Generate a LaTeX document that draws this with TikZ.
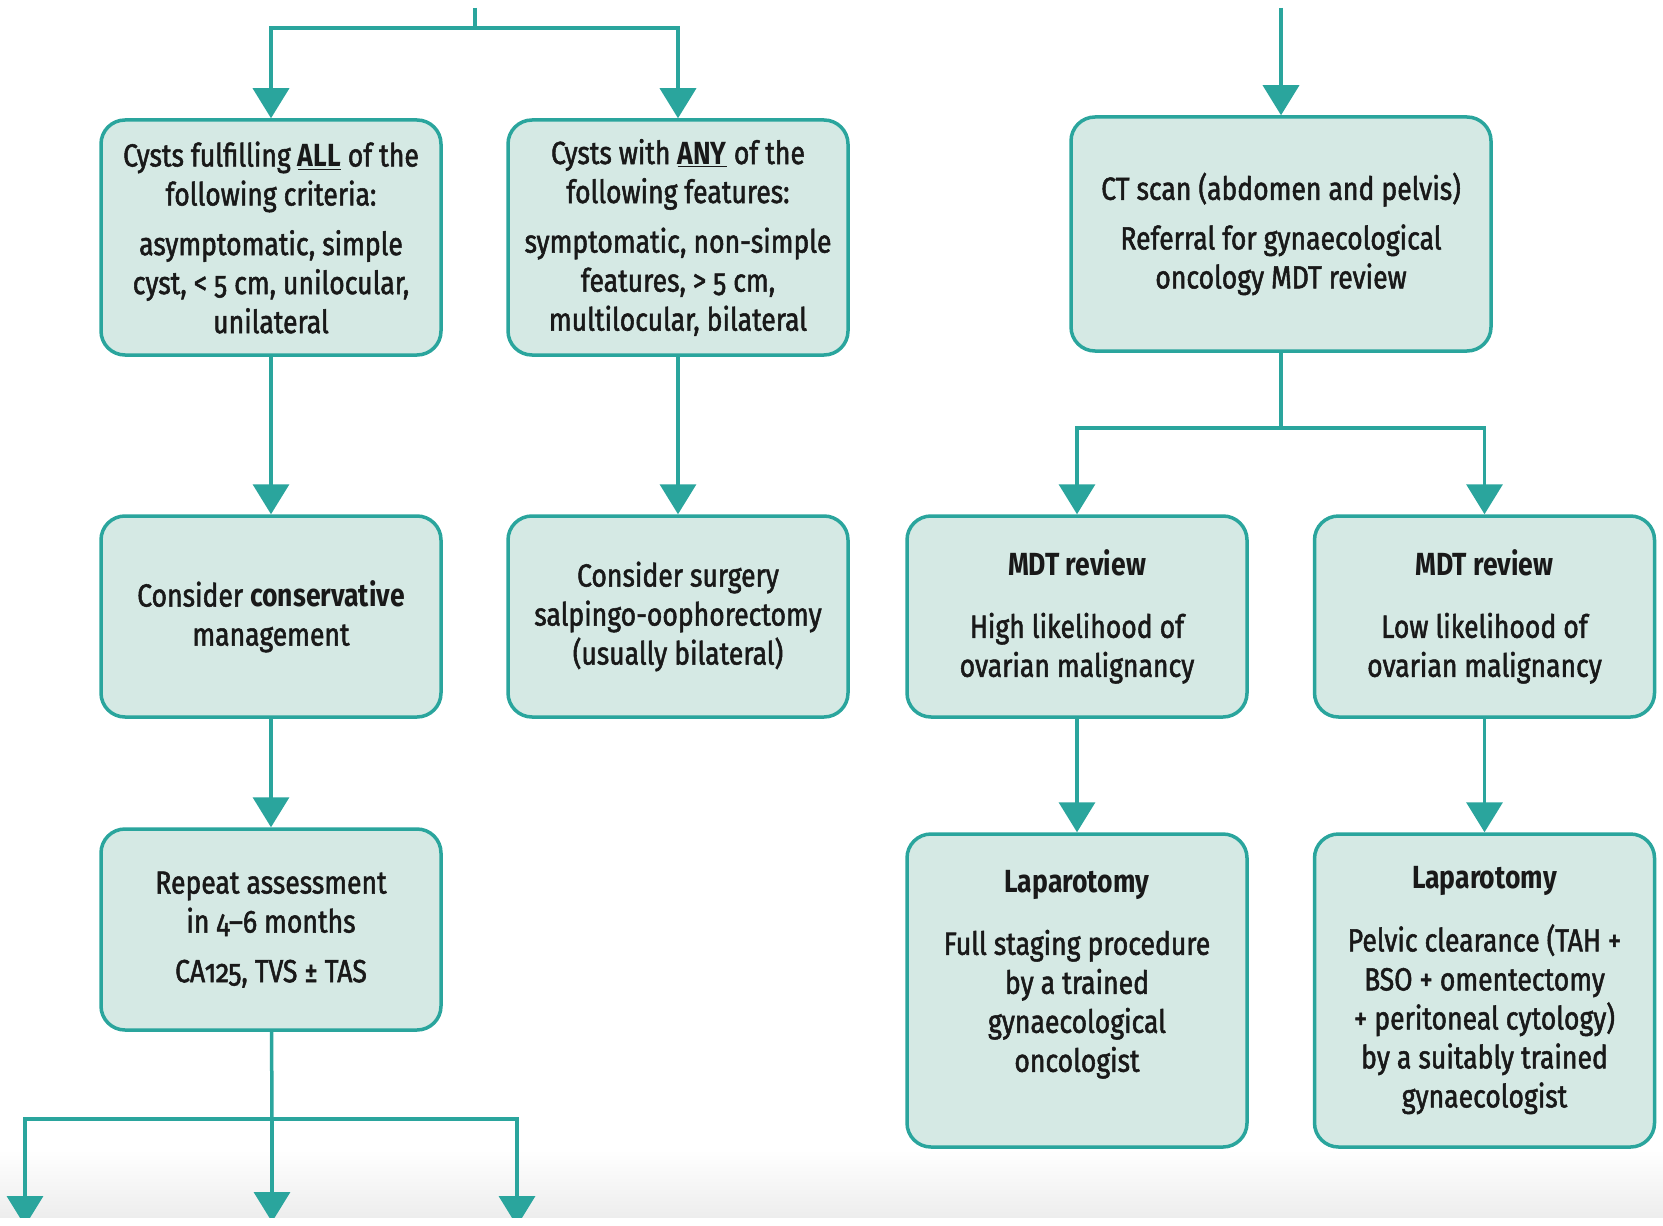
\documentclass[tikz,border=0pt]{standalone}
\usepackage{fontspec}
\setmainfont{Fira Sans}[FakeStretch=0.83, Numbers=OldStyle, UprightFeatures={FakeBold=1.6}]
\usetikzlibrary{arrows.meta,positioning}
\definecolor{tealline}{RGB}{42,165,157}
\definecolor{tealfill}{RGB}{213,233,228}
\definecolor{inktext}{RGB}{25,25,25}
\tikzset{
  box/.style={draw=tealline, fill=tealfill, line width=1.75pt, rounded corners=12pt,
    minimum width=170pt, minimum height=100.5pt, align=center, inner sep=0pt,
    text=inktext, font=\fontsize{16}{19.5}\selectfont},
  link/.style={draw=tealline, line width=1.75pt},
  flow/.style={link, -{Triangle[width=18pt,length=15pt]}},
}

\begin{document}
\begin{tikzpicture}[x=0.5pt, y=-0.5pt]
    \fill[white] (0,0) rectangle (1663,1225);
    \shade[top color=white, bottom color=black!7] (0,1150) rectangle (1663,1217);
    \useasboundingbox (0,0) rectangle (1663,1225);

    % left branch
    \node [box, minimum height=117.5pt] (all) at (271,237.5) {Cysts fulfilling \underline{\textbf{ALL}} of the\\following criteria:\\[5.3pt]asymptomatic, simple\\cyst, < 5 cm, unilocular,\\unilateral};
    \node [box, minimum height=117.5pt] (any) at (678,237.5) {Cysts with \underline{\textbf{ANY}} of the\\following features:\\[5.3pt]symptomatic, non-simple\\features, > 5 cm,\\multilocular, bilateral};
    \node [box] (cons) at (271,616.5) {Consider \textbf{conservative}\\management};
    \node [box] (surg) at (678,616.5) {Consider surgery\\salpingo-oophorectomy\\(usually bilateral)};
    \node [box] (rep) at (271,929.5) {Repeat assessment\\in 4–6 months\\[5.3pt]CA125, TVS ± TAS};

    % right branch
    \node [box, minimum width=210pt, minimum height=117pt] (ct) at (1281,234) {CT scan (abdomen and pelvis)\\[5.3pt]Referral for gynaecological\\oncology MDT review};
    \node [box] (high) at (1077,616.5) {\textbf{MDT review}\\[11.7pt]High likelihood of\\ovarian malignancy};
    \node [box] (low) at (1484.5,616.5) {\textbf{MDT review}\\[11.7pt]Low likelihood of\\ovarian malignancy};
    \node [box, minimum height=156.5pt] (lap1) at (1077,990.5) {\textbf{Laparotomy}\\[11.7pt]Full staging procedure\\by a trained\\gynaecological\\oncologist\\\phantom{x}};
    \node [box, minimum height=156.5pt] (lap2) at (1484.5,990.5) {\textbf{Laparotomy}\\[11.7pt]Pelvic clearance (TAH +\\BSO + omentectomy\\+ peritoneal cytology)\\by a suitably trained\\gynaecologist};

    \coordinate (inL) at (475,8);
    \coordinate (splitA) at (475,28);
    \coordinate (inR) at (1281,8);
    \coordinate (splitB) at (1281,428);
    \coordinate (splitC) at (272,1119);
    \coordinate (out1) at (25,1226);
    \coordinate (out2) at (272,1222);
    \coordinate (out3) at (517,1226);

    \draw[link] (inL) -- (splitA);
    \draw[flow] (splitA) -| (all);
    \draw[flow] (splitA) -| (any);
    \draw[flow] (all) -- (cons);
    \draw[flow] (any) -- (surg);
    \draw[flow] (cons) -- (rep);

    \draw[flow] (inR) -- (ct);
    \draw[link] (ct) -- (splitB);
    \draw[flow] (splitB) -| (high);
    \draw[flow] (splitB) -| (low);
    \draw[flow] (high) -- (lap1);
    \draw[flow] (low) -- (lap2);

    \begin{scope}
        \clip (0,0) rectangle (1663,1217);
        \draw[link] (rep) -- (splitC);
        \draw[flow] (splitC) -| (out1);
        \draw[flow] (splitC) -- (out2);
        \draw[flow] (splitC) -| (out3);
    \end{scope}
\end{tikzpicture}
\end{document}
